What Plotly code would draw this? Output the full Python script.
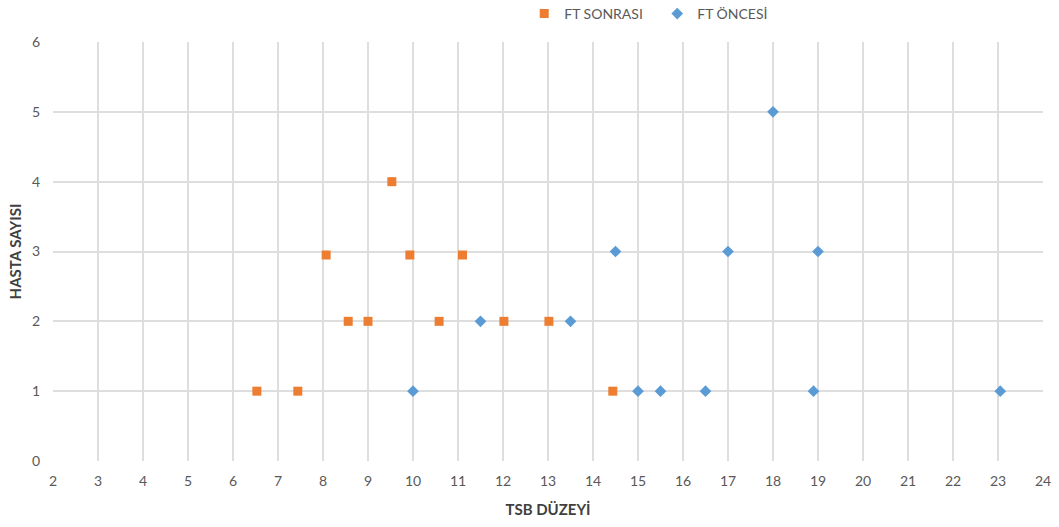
import plotly.graph_objects as go

# FT SONRASI (after phototherapy)
sonrasi_x = [6.53, 7.44, 8.07, 8.56, 9.0, 9.53, 9.93, 10.58, 11.1, 12.02, 13.02, 14.44]
sonrasi_y = [1, 1, 2.95, 2, 2, 4, 2.95, 2, 2.95, 2, 2, 1]

# FT ÖNCESİ (before phototherapy)
oncesi_x = [10.0, 11.5, 13.5, 14.5, 15.0, 15.5, 16.5, 17.0, 18.0, 18.9, 19.0, 23.05]
oncesi_y = [1, 2, 2, 3, 1, 1, 1, 3, 5, 1, 3, 1]

x_ticks = list(range(2, 25))
y_ticks = list(range(0, 7))

ORANGE = "#ED7D31"
BLUE = "#5B9BD5"
FONT = "Lato"

fig = go.Figure()
fig.add_trace(go.Scatter(
    x=sonrasi_x, y=sonrasi_y, mode="markers", name="FT SONRASI",
    marker=dict(symbol="square", size=9, color=ORANGE, line=dict(width=0)),
))
fig.add_trace(go.Scatter(
    x=oncesi_x, y=oncesi_y, mode="markers", name="FT ÖNCESİ",
    marker=dict(symbol="diamond", size=9, color=BLUE, line=dict(width=0)),
))

fig.update_layout(
    width=1059, height=527,
    margin=dict(l=53, r=16, t=42, b=66, pad=0, autoexpand=False),
    paper_bgcolor="white", plot_bgcolor="white",
    font=dict(family=FONT, color="#595959", size=14),
    showlegend=True,
    legend=dict(
        orientation="h", x=0.476, xanchor="left", y=1.067, yanchor="middle",
        font=dict(family=FONT, size=14, color="#595959"),
        bgcolor="rgba(0,0,0,0)", itemwidth=30, tracegroupgap=0,
        entrywidth=88, entrywidthmode="pixels",
    ),
    xaxis=dict(
        range=[2, 24], tickvals=x_ticks, ticktext=[str(v) for v in x_ticks],
        showgrid=True, gridcolor="#dedede", gridwidth=1.5,
        zeroline=False, showline=False, ticks="", ticklabelstandoff=10,
        tickfont=dict(family=FONT, size=14, color="#595959"),
        title=dict(text="<b>TSB DÜZEYİ</b>", standoff=16,
                   font=dict(family=FONT, size=15, color="#404040")),
    ),
    yaxis=dict(
        range=[0, 6], tickvals=y_ticks, ticktext=[str(v) for v in y_ticks],
        showgrid=True, gridcolor="#dedede", gridwidth=1.5,
        zeroline=False, showline=False, ticks="", ticklabelstandoff=12,
        tickfont=dict(family=FONT, size=14, color="#595959"),
        title=dict(text="<b>HASTA SAYISI</b>", standoff=6,
                   font=dict(family=FONT, size=15, color="#404040")),
    ),
)

fig.write_html("out.html")
